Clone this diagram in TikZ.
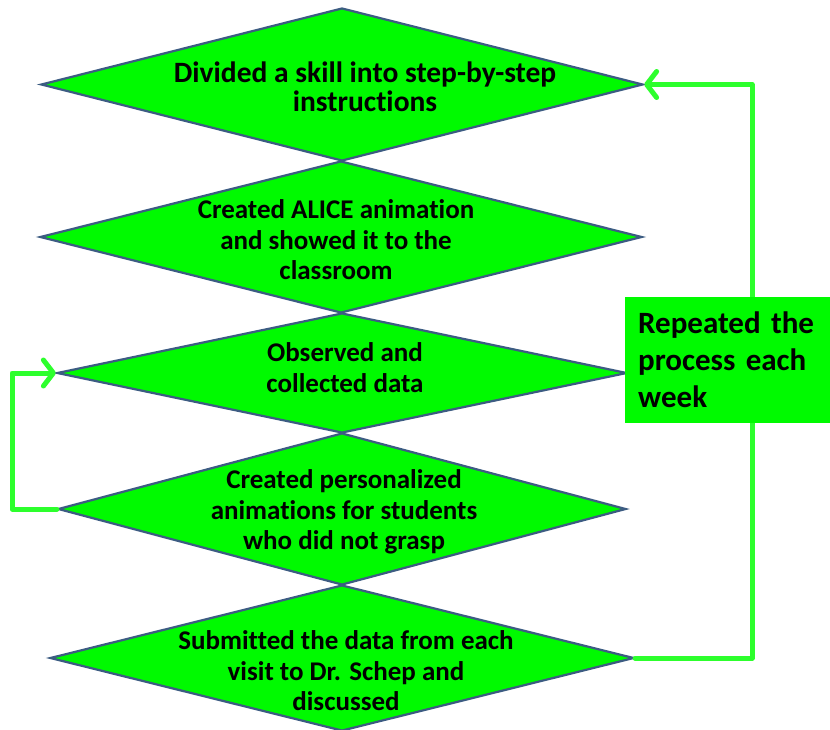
\documentclass[tikz,border=0pt]{standalone}
\usepackage{fontspec}
\setmainfont{Carlito}[Ligatures=CommonOff]
\usetikzlibrary{shapes.geometric,arrows.meta}
\definecolor{boxgreen}{RGB}{0,250,0}
\definecolor{edgeblue}{RGB}{60,92,130}
\definecolor{loopgreen}{RGB}{45,255,45}
\begin{document}
\begin{tikzpicture}[x=1pt,y=-1pt,
  diabox/.style n args={2}{shape=diamond, draw=edgeblue, line width=2.2pt, fill=boxgreen,
    inner sep=0pt, minimum width=#1pt, minimum height=#2pt},
  diatext/.style={align=center, font=\fontsize{27}{30.5}\selectfont\bfseries, text=black, inner sep=0pt},
  loopline/.style={draw=loopgreen, line width=5pt, line join=round, line cap=round,
    -{Straight Barb[length=10pt,width=26pt,line width=5pt,round]}},
  repbox/.style={fill=boxgreen, draw=none, minimum width=205pt, minimum height=126pt,
    inner xsep=13pt, inner ysep=0pt, text width=192pt, align=left, font=\fontsize{31}{37}\selectfont\bfseries}
]
\useasboundingbox (0,0) rectangle (830,729);
\fill[white] (0,0) rectangle (830,729);

\node[diabox={602}{153}] (d1) at (342,84.5) {};
\node[diabox={602}{152}] (d2) at (341,237) {};
\node[diabox={570}{120}] (d3) at (342,373) {};
\node[diabox={568}{152}] (d4) at (342,509) {};
\node[diabox={584}{146}] (d5) at (342,658) {};

\node[diatext, font=\fontsize{29.5}{29}\selectfont\bfseries] (t1) at (365,86.5) {Divided a skill into step-by-step\\instructions};
\node[diatext] (t2) at (336,240) {Created ALICE animation\\and showed it to the\\classroom};
\node[diatext] (t3) at (345,367.5) {Observed and\\collected data};
\node[diatext] (t4) at (344,512) {Created personalized\\animations for students\\who did not grasp};
\node[diatext] (t5) at (346,671) {Submitted the data from each\\visit to Dr. Schep and\\discussed};

\coordinate (rc) at (752,400);
\coordinate (lc) at (12,440);
\draw[loopline] (d5.east) -| (rc) |- (d1.east);
\draw[loopline] (d4.west) -| (lc) |- (d3.west);

\node[repbox, anchor=north west] (rep) at (625,297) {Repeated the\\process each\\week};
\end{tikzpicture}
\end{document}
